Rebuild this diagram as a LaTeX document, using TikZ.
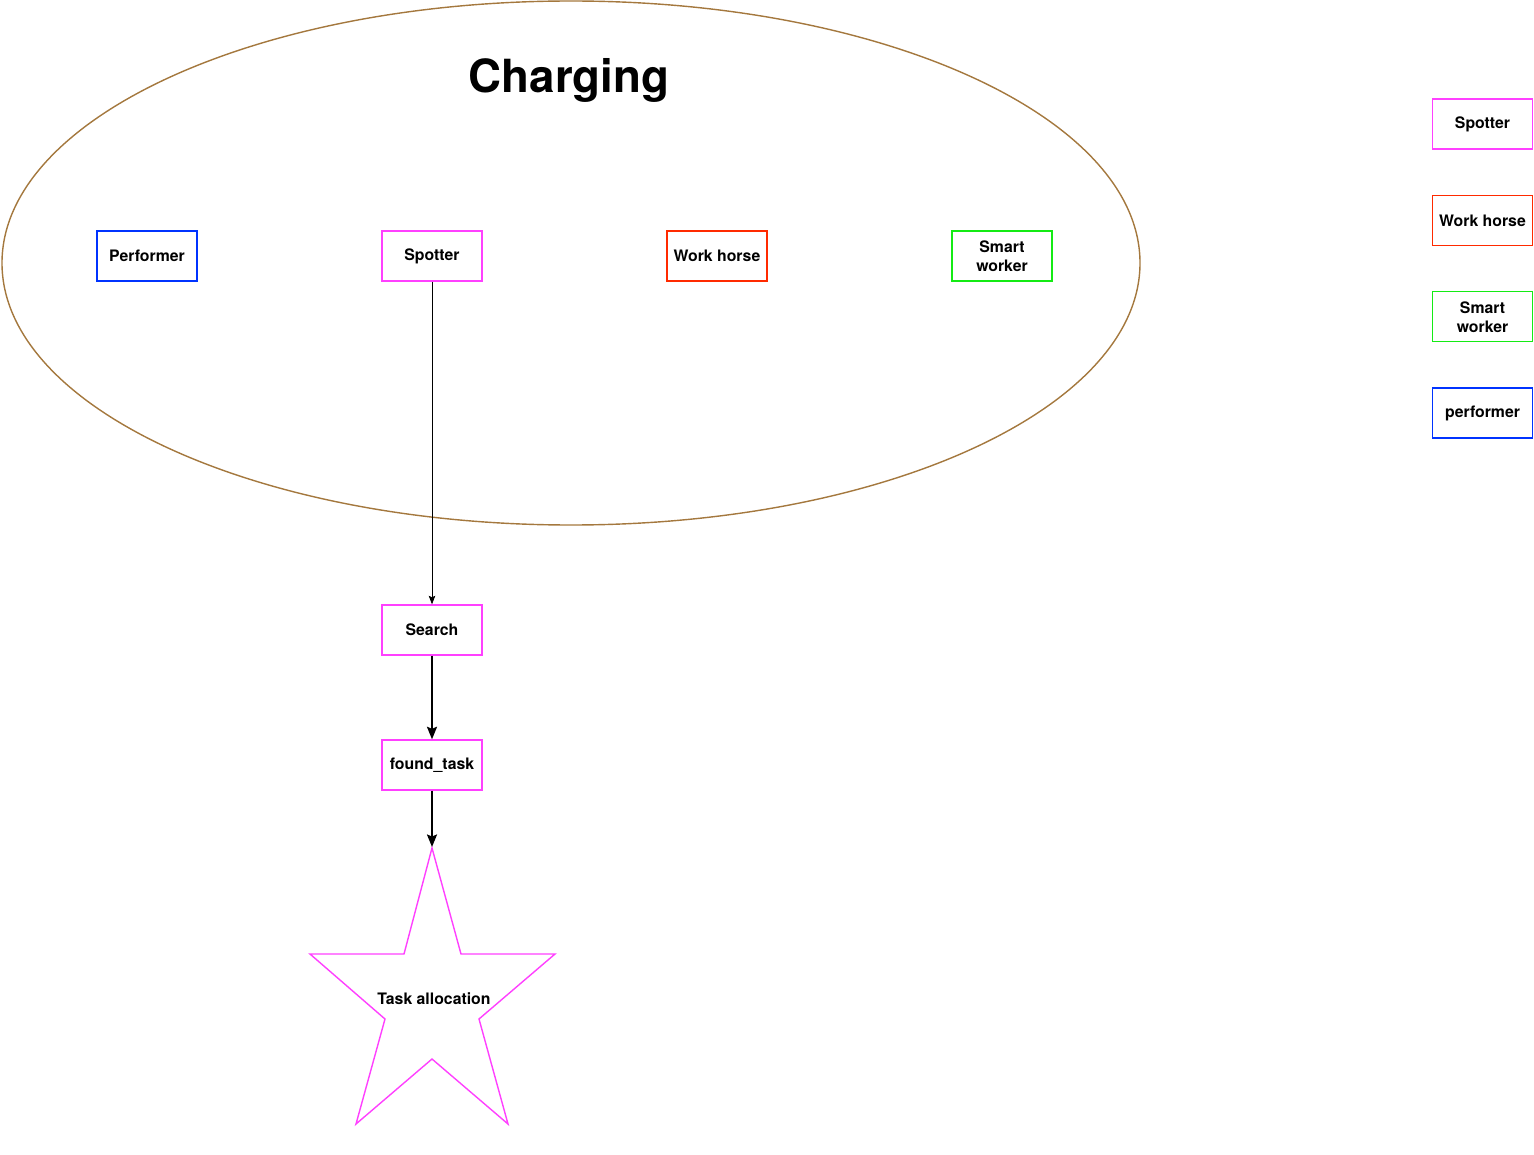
\documentclass[tikz,border=0pt]{standalone}
\usepackage{fontspec}
\setmainfont{TeX Gyre Heros}
\usetikzlibrary{arrows.meta,positioning}
\definecolor{cspot}{RGB}{255,64,255}
\definecolor{chorse}{RGB}{255,42,0}
\definecolor{csmart}{RGB}{20,235,20}
\definecolor{cperf}{RGB}{0,51,255}
\definecolor{cring}{RGB}{164,120,62}

\begin{document}
\begin{tikzpicture}[x=0.02cm,y=-0.02cm,
  role/.style={draw,line width=0.8pt,minimum width=2cm,minimum height=1cm,
    inner sep=1pt,align=center,font=\fontsize{9}{10.8}\selectfont\bfseries},
  thinflow/.style={line width=0.4pt,-{Stealth[length=0.17cm,width=0.13cm,inset=0.03cm]}},
  flow/.style={line width=1.1pt,-{Stealth[length=0.25cm,width=0.2cm,inset=0.04cm]}},
  node distance=0.9cm]
  \useasboundingbox (0,0) rectangle (1534,1155);
  % charging state
  \draw[cring,line width=0.8pt] (571,263) ellipse [x radius=569, y radius=262];
  \node[font=\fontsize{26}{30}\selectfont\bfseries] (title) at (569,80) {Charging};
  \node[role,cperf,text=black] (perf) at (147,256) {Performer};
  \node[role,cspot,text=black] (spot) at (432,256) {Spotter};
  \node[role,chorse,text=black] (horse) at (717,256) {Work horse};
  \node[role,csmart,text=black] (smart) at (1002,256) {Smart\\worker};
  % spotter path
  \node[role,cspot,text=black] (search) at (432,630) {Search};
  \node[role,cspot,text=black] (found) at (432,765) {found\_task};
  \draw[cspot,line width=0.8pt] (432,848) -- (461,954) -- (555,954) -- (479,1019)
    -- (508,1124) -- (432,1059) -- (356,1124) -- (385,1019) -- (310,954)
    -- (404,954) -- cycle;
  \coordinate (startop) at (432,847);
  \node[font=\fontsize{9}{10.8}\selectfont\bfseries] (alloc) at (434,999) {Task allocation};
  \draw[thinflow] (spot) -- (search);
  \draw[flow] (search) -- (found);
  \draw[flow] (found) -- (startop);
  % legend
  \node[role,cspot,text=black] (lspot) at (1482.5,124) {Spotter};
  \node[role,chorse,text=black,below=of lspot] (lhorse) {Work horse};
  \node[role,csmart,text=black,below=of lhorse] (lsmart) {Smart\\worker};
  \node[role,cperf,text=black,below=of lsmart] (lperf) {performer};
\end{tikzpicture}
\end{document}
